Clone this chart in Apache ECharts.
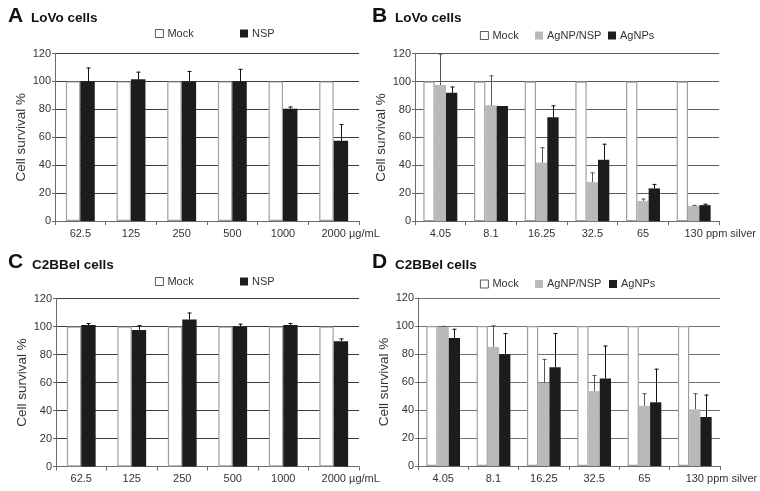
<!DOCTYPE html>
<html>
<head>
<meta charset="utf-8">
<script src="https://cdn.jsdelivr.net/npm/echarts@6/dist/echarts.min.js"></script>
<style>
html,body{margin:0;padding:0;background:#fff;}
#chart{width:760px;height:491px;}
</style>
</head>
<body>
<div id="chart"></div>
<script>
// ---------- data ----------
const categoriesNSP = ['62.5', '125', '250', '500', '1000', '2000'];
const unitNSP = 'µg/mL';
const categoriesAg = ['4.05', '8.1', '16.25', '32.5', '65', '130'];
const unitAg = 'ppm silver';

const mockValues = [100, 100, 100, 100, 100, 100];

// Panel A: LoVo cells, NSP
const nspLoVo = [100, 101.5, 100, 100, 80.5, 57.5];
const nspLoVoErr = [10, 5.5, 7.5, 9, 1.5, 12];

// Panel B: LoVo cells, AgNP/NSP and AgNPs
const agnpNspLoVo = [97.5, 83, 42, 28, 14.5, 11];
const agnpNspLoVoErr = [22.5, 21.5, 11, 7, 1.7, 0.7];
const agnpsLoVo = [92, 82.5, 74.5, 44, 23.5, 11.5];
const agnpsLoVoErr = [4.5, 0, 8.5, 11.5, 3.2, 1];

// Panel C: C2BBel cells, NSP
const nspC2 = [101, 97.5, 105, 100, 101, 89.5];
const nspC2Err = [1.5, 3.5, 5, 2, 1.5, 2];

// Panel D: C2BBel cells, AgNP/NSP and AgNPs
const agnpNspC2 = [99.3, 85, 59.5, 53.5, 43, 40.5];
const agnpNspC2Err = [0.8, 15.5, 17, 11.5, 9, 11.5];
const agnpsC2 = [91.5, 80, 70.5, 62.5, 45.5, 35];
const agnpsC2Err = [6.5, 15, 24.5, 23.5, 24, 16];

const yMin = 0, yMax = 120, yInterval = 20;
const yAxisName = 'Cell survival %';

// ---------- styling / layout ----------
const FONT = '"Liberation Sans", Arial, Helvetica, sans-serif';
const TXT = '#333';
const MOCK_STYLE = {color: '#ffffff', borderColor: '#a0a0a0', borderWidth: 1.2};
const BLACK = '#1c1c1c';
const GRAY = '#b9b9b9';

function measure(text, size) {
  const c = document.createElement('canvas').getContext('2d');
  c.font = size + 'px ' + FONT;
  return c.measureText(text).width;
}

const chart = echarts.init(document.getElementById('chart'));

const grids = [], xAxes = [], yAxes = [], series = [], legends = [], titles = [];

function addPanel(p) {
  const gi = grids.length;
  grids.push({left: p.left, top: p.top, width: p.width, height: p.height, containLabel: false});
  const cats = p.categories;
  const padLeft = measure(' ' + p.unit, 11);
  xAxes.push({
    type: 'category', gridIndex: gi, data: cats,
    axisLine: {lineStyle: {color: '#6a6a6a', width: 1}},
    axisTick: {show: true, length: 4, lineStyle: {color: '#6a6a6a'}},
    axisLabel: {
      color: TXT, fontSize: 11, fontFamily: FONT, margin: 7, interval: 0,
      formatter: (v, i) => i === cats.length - 1 ? '{u|' + v + ' ' + p.unit + '}' : v,
      rich: {u: {fontSize: 11, fontFamily: FONT, color: TXT, padding: [0, 0, 0, padLeft]}}
    },
    splitLine: {show: false}
  });
  yAxes.push({
    type: 'value', gridIndex: gi, min: yMin, max: yMax, interval: yInterval,
    name: yAxisName, nameLocation: 'middle', nameGap: 25,
    nameTextStyle: {color: TXT, fontSize: 13.5, fontFamily: FONT},
    axisLine: {show: true, lineStyle: {color: '#6a6a6a', width: 1}},
    axisTick: {show: true, length: 3, lineStyle: {color: '#6a6a6a'}},
    axisLabel: {color: TXT, fontSize: 11, fontFamily: FONT, margin: 4},
    splitLine: {show: true, lineStyle: {color: p.gridColor, width: 1}}
  });
  const n = p.bars.length;
  const gapFrac = p.gap;
  p.bars.forEach((b, k) => {
    series.push({
      type: 'bar', name: b.name, xAxisIndex: gi, yAxisIndex: gi,
      data: b.values, barGap: '0%', barCategoryGap: Math.round(gapFrac * 100) + '%',
      itemStyle: b.style, z: 2, animation: false
    });
    if (b.err) {
      series.push({
        type: 'custom', name: b.name + ' error', xAxisIndex: gi, yAxisIndex: gi,
        data: b.values.map((v, i) => [i, v, b.err[i]]),
        encode: {x: 0, y: 1}, z: 3, animation: false, silent: true,
        renderItem: function (params, api) {
          const idx = api.value(0), val = api.value(1), err = api.value(2);
          if (!(err > 0)) return null;
          const base = api.coord([idx, val]);
          const top = api.coord([idx, val + err]);
          const band = api.size([1, 0])[0];
          const group = band * (1 - gapFrac);
          const bw = group / n;
          const x = Math.round(base[0] - group / 2 + bw * (k + 0.5)) + 0.5;
          const col = b.errColor;
          return {
            type: 'group',
            children: [
              {type: 'line', shape: {x1: x, y1: base[1], x2: x, y2: top[1]}, style: {stroke: col, lineWidth: 1}},
              {type: 'line', shape: {x1: x - 2, y1: top[1] + 0.5, x2: x + 2, y2: top[1] + 0.5}, style: {stroke: col, lineWidth: 1}}
            ]
          };
        }
      });
    }
  });
  p.legendPos.forEach((lp, k) => {
    const b = p.bars[k];
    const isMock = b.style.color === '#ffffff';
    legends.push({
      data: [{name: b.name, itemStyle: {color: b.style.color,
        borderColor: isMock ? '#333' : b.style.color, borderWidth: isMock ? 0.8 : 0}}],
      left: lp[0], top: lp[1], padding: 0,
      itemWidth: 8, itemHeight: 8, itemGap: 0, selectedMode: false,
      textStyle: {color: TXT, fontSize: 11, fontFamily: FONT, padding: [0, 0, 0, -1]},
      icon: 'rect'
    });
  });
  titles.push({text: p.letter, left: p.letterPos[0], top: p.letterPos[1], padding: 0,
    textStyle: {fontSize: 21, fontWeight: 'bold', color: '#111', fontFamily: FONT}});
  titles.push({text: p.title, left: p.titlePos[0], top: p.titlePos[1], padding: 0,
    textStyle: {fontSize: 13.5, fontWeight: 'bold', color: '#111', fontFamily: FONT}});
}

addPanel({
  letter: 'A', title: 'LoVo cells', letterPos: [8, 6], titlePos: [31, 11.5],
  left: 55, top: 53.5, width: 304, height: 167.5, gridColor: '#3a3a3a',
  categories: categoriesNSP, unit: unitNSP, gap: 0.43,
  bars: [
    {name: 'Mock', values: mockValues, style: MOCK_STYLE},
    {name: 'NSP', values: nspLoVo, err: nspLoVoErr, style: {color: BLACK}, errColor: '#111'}
  ],
  legendPos: [[155, 28], [240, 28]]
});
addPanel({
  letter: 'B', title: 'LoVo cells', letterPos: [372, 6], titlePos: [395, 11.5],
  left: 415, top: 53.7, width: 304, height: 167.5, gridColor: '#5a5a5a',
  categories: categoriesAg, unit: unitAg, gap: 0.33,
  bars: [
    {name: 'Mock', values: mockValues, style: MOCK_STYLE},
    {name: 'AgNP/NSP', values: agnpNspLoVo, err: agnpNspLoVoErr, style: {color: GRAY}, errColor: '#555'},
    {name: 'AgNPs', values: agnpsLoVo, err: agnpsLoVoErr, style: {color: BLACK}, errColor: '#111'}
  ],
  legendPos: [[480, 30], [535, 30], [608, 30]]
});
addPanel({
  letter: 'C', title: 'C2BBel cells', letterPos: [8, 252], titlePos: [32, 258.5],
  left: 56, top: 298.5, width: 303, height: 168, gridColor: '#3a3a3a',
  categories: categoriesNSP, unit: unitNSP, gap: 0.43,
  bars: [
    {name: 'Mock', values: mockValues, style: MOCK_STYLE},
    {name: 'NSP', values: nspC2, err: nspC2Err, style: {color: BLACK}, errColor: '#111'}
  ],
  legendPos: [[155, 276], [240, 276]]
});
addPanel({
  letter: 'D', title: 'C2BBel cells', letterPos: [372, 252], titlePos: [395, 258.5],
  left: 418, top: 298, width: 304, height: 168, gridColor: '#707070',
  categories: categoriesAg, unit: unitAg, gap: 0.33,
  bars: [
    {name: 'Mock', values: mockValues, style: MOCK_STYLE},
    {name: 'AgNP/NSP', values: agnpNspC2, err: agnpNspC2Err, style: {color: GRAY}, errColor: '#555'},
    {name: 'AgNPs', values: agnpsC2, err: agnpsC2Err, style: {color: BLACK}, errColor: '#111'}
  ],
  legendPos: [[480, 278.5], [535, 278.5], [609, 278.5]]
});

chart.setOption({
  backgroundColor: '#ffffff',
  animation: false,
  title: titles,
  legend: legends,
  grid: grids,
  xAxis: xAxes,
  yAxis: yAxes,
  series: series
});
</script>
</body>
</html>
